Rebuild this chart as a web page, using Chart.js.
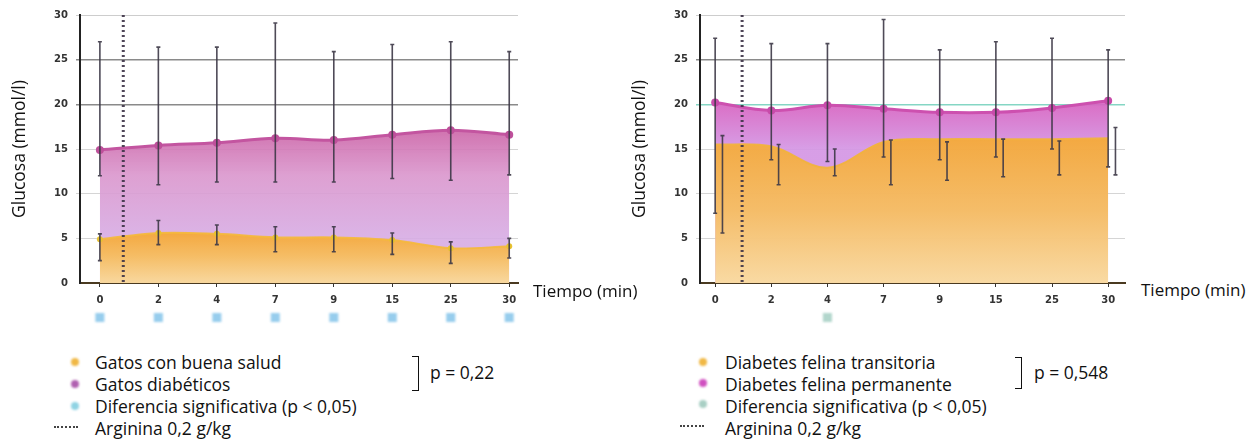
<!DOCTYPE html>
<html>
<head>
<meta charset="utf-8">
<script src="https://cdn.jsdelivr.net/npm/chart.js@4/dist/chart.umd.min.js"></script>
<style>
  body { margin: 0; background: #fff; width: 1251px; height: 446px; overflow: hidden; position: relative;
         font-family: "Open Sans", "Noto Sans", sans-serif; color: #111; }
  .wrap { position: absolute; top: 0; height: 330px; }
  .txt { position: absolute; font-size: 17.5px; line-height: 20px; white-space: nowrap; }
  .dot { position: absolute; width: 8px; height: 8px; border-radius: 50%; filter: blur(1px); }
  .dash { position: absolute; width: 24px; height: 0; border-top: 2px dotted #444; }
  .brk { position: absolute; width: 6px; border: 1px solid #111; border-left: none; }
</style>
</head>
<body>
<div class="wrap" style="left:0;width:530px"><canvas id="chartL"></canvas></div>
<div class="wrap" style="left:620px;width:520px"><canvas id="chartR"></canvas></div>

<div class="txt" style="left:533px;top:281px;font-size:17px">Tiempo (min)</div>
<div class="txt" style="left:1141px;top:280px;font-size:17px">Tiempo (min)</div>

<!-- legend left -->
<div class="dot" style="left:71px;top:358px;background:#f0b845"></div>
<div class="dot" style="left:71px;top:380px;background:#b060b0"></div>
<div class="dot" style="left:71px;top:402px;background:#8fd3e3"></div>
<div class="dash" style="left:54px;top:426px"></div>
<div class="txt" style="left:95px;top:352px">Gatos con buena salud</div>
<div class="txt" style="left:95px;top:374px">Gatos diabéticos</div>
<div class="txt" style="left:95px;top:396px">Diferencia significativa (p &lt; 0,05)</div>
<div class="txt" style="left:95px;top:418px">Arginina 0,2 g/kg</div>
<div class="brk" style="left:412px;top:356px;height:33px"></div>
<div class="txt" style="left:430px;top:362px">p = 0,22</div>

<!-- legend right -->
<div class="dot" style="left:699px;top:358px;background:#f0b845"></div>
<div class="dot" style="left:699px;top:379px;background:#d050c0"></div>
<div class="dot" style="left:699px;top:400px;background:#a8cfc4"></div>
<div class="dash" style="left:680px;top:425px"></div>
<div class="txt" style="left:725px;top:352px">Diabetes felina transitoria</div>
<div class="txt" style="left:725px;top:374px">Diabetes felina permanente</div>
<div class="txt" style="left:725px;top:396px">Diferencia significativa (p &lt; 0,05)</div>
<div class="txt" style="left:725px;top:418px">Arginina 0,2 g/kg</div>
<div class="brk" style="left:1015px;top:357px;height:30px"></div>
<div class="txt" style="left:1034px;top:362px">p = 0,548</div>

<script>
// ---- data ----
const times = ['0', '2', '4', '7', '9', '15', '25', '30'];

// left: healthy vs diabetic cats
const healthyMean = [4.9, 5.6, 5.5, 5.1, 5.1, 4.8, 3.9, 4.1];
const healthyHi   = [5.5, 7.0, 6.5, 6.3, 6.3, 5.6, 4.6, 5.0];
const healthyLo   = [2.5, 4.3, 4.3, 3.5, 3.5, 3.2, 2.2, 2.8];
const diabMean    = [14.9, 15.4, 15.7, 16.2, 16.0, 16.6, 17.1, 16.6];
const diabHi      = [27.0, 26.4, 26.4, 29.1, 25.9, 26.7, 27.0, 25.9];
const diabLo      = [12.0, 11.0, 11.3, 11.3, 11.3, 11.7, 11.5, 12.1];
const sigLeft     = [0, 1, 2, 3, 4, 5, 6, 7];

// right: transient vs permanent diabetes
const transMean   = [15.5, 15.3, 12.9, 15.8, 16.1, 16.1, 16.1, 16.2];
const transHi     = [16.5, 15.5, 15.0, 16.0, 15.8, 16.1, 15.9, 17.4];
const transLo     = [5.6, 11.0, 12.0, 11.0, 11.5, 11.9, 12.1, 12.1];
const permMean    = [20.2, 19.3, 19.9, 19.5, 19.1, 19.1, 19.6, 20.4];
const permHi      = [27.4, 26.8, 26.8, 29.5, 26.1, 27.0, 27.4, 26.1];
const permLo      = [7.8, 13.8, 13.6, 14.1, 13.8, 14.1, 15.0, 13.0];
const sigRight    = [2];

const argininaLeft = 0.4;   // position between 0 and 2 min (category index)
const argininaRight = 0.48;

// ---- helpers ----
function pts(arr) { return arr.map((v, i) => ({ x: i, y: v })); }

function vGradient(stops) {
  return (c) => {
    const chart = c.chart;
    const y = chart.scales.y;
    if (!chart.chartArea || !y) return stops[0][1];
    const g = chart.ctx.createLinearGradient(0, y.getPixelForValue(stops[0][0]), 0, y.getPixelForValue(stops[stops.length - 1][0]));
    const top = stops[0][0], bot = stops[stops.length - 1][0];
    stops.forEach(s => g.addColorStop((top - s[0]) / (top - bot), s[1]));
    return g;
  };
}

// error bars, arginine line and significance squares
const extras = {
  id: 'extras',
  afterDatasetsDraw(chart, args, opts) {
    const ctx = chart.ctx, xs = chart.scales.x, ys = chart.scales.y;
    ctx.save();
    chart.data.datasets.forEach(ds => {
      if (!ds.errHi) return;
      ctx.strokeStyle = 'rgba(60,55,70,0.9)';
      ctx.lineWidth = 1.6;
      ds.errHi.forEach((hi, i) => {
        const x = xs.getPixelForValue(i + (ds.errDx || 0));
        const y1 = ys.getPixelForValue(hi), y2 = ys.getPixelForValue(ds.errLo[i]);
        ctx.beginPath();
        ctx.moveTo(x, y1); ctx.lineTo(x, y2);
        ctx.moveTo(x - 2, y1); ctx.lineTo(x + 2, y1);
        ctx.moveTo(x - 2, y2); ctx.lineTo(x + 2, y2);
        ctx.stroke();
      });
    });
    // arginine dotted line
    const ax = xs.getPixelForValue(opts.arginina);
    ctx.strokeStyle = 'rgba(60,50,70,0.9)';
    ctx.lineWidth = 3;
    ctx.setLineDash([2, 3]);
    ctx.beginPath();
    ctx.moveTo(ax, ys.getPixelForValue(30));
    ctx.lineTo(ax, ys.getPixelForValue(0));
    ctx.stroke();
    ctx.setLineDash([]);
    // significance squares
    ctx.fillStyle = opts.sigColor;
    ctx.filter = 'blur(0.8px)';
    opts.sig.forEach(i => {
      const x = xs.getPixelForValue(i);
      ctx.fillRect(x - 4.5, chart.chartArea.bottom + 30, 9, 9);
    });
    ctx.restore();
  }
};

function makeChart(id, cfg) {
  return new Chart(document.getElementById(id), {
    type: 'line',
    data: { datasets: cfg.datasets },
    options: {
      responsive: true,
      maintainAspectRatio: false,
      animation: false,
      layout: { padding: { left: 8, right: cfg.padRight, top: 15, bottom: 0 } },
      plugins: { legend: { display: false }, tooltip: { enabled: false },
                 extras: { arginina: cfg.arginina, sig: cfg.sig, sigColor: cfg.sigColor } },
      elements: { line: { tension: 0.35 } },
      scales: {
        x: {
          type: 'linear', min: cfg.xMin, max: cfg.xMax,
          afterBuildTicks: s => { s.ticks = times.map((t, i) => ({ value: i })); },
          afterFit: s => { s.height = 47; },
          ticks: { autoSkip: false, padding: 7, color: '#333',
                   font: { family: 'DejaVu Sans', size: 10, weight: 'bold' },
                   callback: v => times[v] },
          grid: { drawOnChartArea: false, tickLength: 4, color: '#333' },
          border: { color: '#4a3a20', width: 2 }
        },
        y: {
          min: 0, max: 30,
          afterFit: s => { s.width = 72; },
          ticks: { stepSize: 5, padding: 8, color: '#333',
                   font: { family: 'DejaVu Sans', size: 10, weight: 'bold' } },
          grid: {
            tickLength: 4,
            color: c => cfg.gridColor(c.tick.value),
            lineWidth: c => (c.tick.value === 25 || c.tick.value === 20) ? 1.5 : 1
          },
          border: { color: '#222', width: 2 },
          title: { display: true, text: 'Glucosa (mmol/l)', color: '#111', padding: 2,
                   font: { family: 'Open Sans', size: 17.5 } }
        }
      }
    },
    plugins: [extras]
  });
}

// left chart
makeChart('chartL', {
  padRight: 12, xMin: -0.34, xMax: 7.15,
  arginina: argininaLeft, sig: sigLeft, sigColor: 'rgba(140,200,235,0.9)',
  gridColor: v => v === 30 ? 'rgba(205,205,205,1)' : (v === 25 || v === 20) ? 'rgba(125,125,125,0.9)' : v === 0 ? 'rgba(0,0,0,0)' : 'rgba(150,150,150,0.4)',
  datasets: [
    {
      label: 'Gatos con buena salud', data: pts(healthyMean), errHi: healthyHi, errLo: healthyLo,
      fill: 'origin', borderColor: 'rgba(245,185,60,0.9)', borderWidth: 2,
      pointRadius: 3, pointBackgroundColor: '#e8c230', pointBorderWidth: 0,
      backgroundColor: vGradient([[6, 'rgba(245,165,50,0.95)'], [3, 'rgba(247,190,95,0.95)'], [0, 'rgba(250,218,155,0.95)']])
    },
    {
      label: 'Gatos diabéticos', data: pts(diabMean), errHi: diabHi, errLo: diabLo,
      fill: 'origin', borderColor: 'rgb(195,85,160)', borderWidth: 3,
      pointRadius: 4, pointBackgroundColor: 'rgb(190,80,155)', pointBorderWidth: 0,
      backgroundColor: vGradient([[17, 'rgba(205,105,170,0.92)'], [12, 'rgba(218,150,205,0.9)'], [5, 'rgba(215,172,228,0.9)']])
    }
  ]
});

// right chart
makeChart('chartR', {
  padRight: 15, xMin: -0.27, xMax: 7.3,
  arginina: argininaRight, sig: sigRight, sigColor: 'rgba(170,210,198,0.9)',
  gridColor: v => v === 30 ? 'rgba(205,205,205,1)' : v === 25 ? 'rgba(125,125,125,0.9)' : v === 20 ? 'rgba(120,210,190,0.9)' : v === 0 ? 'rgba(0,0,0,0)' : 'rgba(150,150,150,0.4)',
  datasets: [
    {
      label: 'Diabetes felina transitoria', data: pts(transMean), errHi: transHi, errLo: transLo, errDx: 0.13,
      fill: 'origin', borderColor: 'rgba(242,180,60,0.9)', borderWidth: 2,
      pointRadius: 0,
      backgroundColor: vGradient([[16, 'rgba(244,170,60,0.96)'], [8, 'rgba(246,190,100,0.96)'], [0, 'rgba(250,220,160,0.96)']])
    },
    {
      label: 'Diabetes felina permanente', data: pts(permMean), errHi: permHi, errLo: permLo,
      fill: 'origin', borderColor: 'rgb(205,80,175)', borderWidth: 3,
      pointRadius: 4, pointBackgroundColor: 'rgb(200,75,170)', pointBorderWidth: 0,
      backgroundColor: vGradient([[20.5, 'rgba(215,95,190,0.92)'], [15, 'rgba(212,150,228,0.92)']])
    }
  ]
});
</script>
</body>
</html>
